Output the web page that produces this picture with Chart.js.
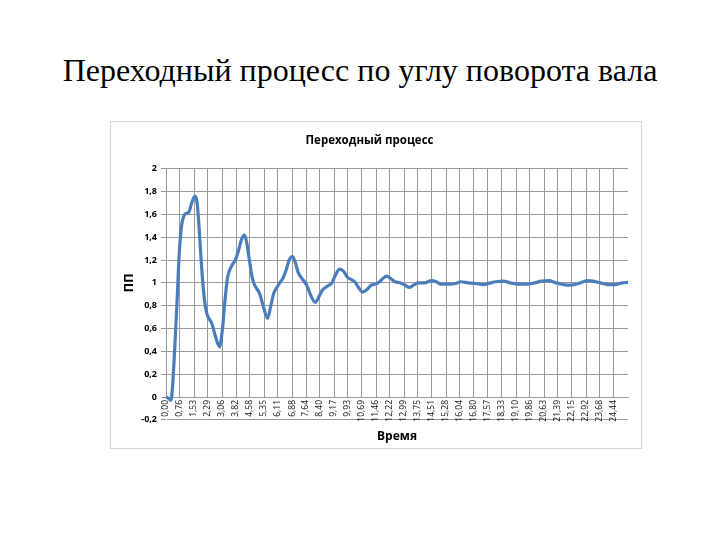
<!DOCTYPE html>
<html lang="ru">
<head>
  <meta charset="UTF-8" />
  <title>Переходный процесс по углу поворота вала</title>
  <script src="https://cdn.jsdelivr.net/npm/chart.js@4.4.0/dist/chart.umd.min.js"></script>
  <style>
    body { margin: 0; width: 720px; height: 540px; background: #fff; position: relative; overflow: hidden; }
    #slideTitle {
      position: absolute; left: 0; top: 50px; width: 720px; margin: 0;
      text-align: center; font-family: 'Liberation Serif', 'Times New Roman', serif;
      font-size: 32px; font-weight: normal; line-height: 40px; color: #000;
    }
    #frame {
      position: absolute; left: 110px; top: 121px;
      width: 530px; height: 326px; border: 1px solid #d4d4d4;
    }
    #frame canvas { display: block; }
  </style>
</head>
<body>
  <h1 id="slideTitle">Переходный процесс по углу поворота вала</h1>
  <div id="frame"><canvas id="chart" width="530" height="326"></canvas></div>
  <script>
    // time axis labels (every 0,764 s)
    const timeTicks = [0.00, 0.76, 1.53, 2.29, 3.06, 3.82, 4.58, 5.35, 6.11, 6.88,
      7.64, 8.40, 9.17, 9.93, 10.69, 11.46, 12.22, 12.99, 13.75, 14.51, 15.28,
      16.04, 16.80, 17.57, 18.33, 19.10, 19.86, 20.63, 21.39, 22.15, 22.92,
      23.68, 24.44];
    const timeMax = 25.21;
    const ppTicks = [-0.2, 0, 0.2, 0.4, 0.6, 0.8, 1, 1.2, 1.4, 1.6, 1.8, 2];

    // curve
    const tSec = [0.00, 0.12, 0.27, 0.36, 0.50, 0.62, 0.72, 0.85, 0.98, 1.10,
      1.25, 1.40, 1.58, 1.70, 1.82, 1.95, 2.10, 2.23, 2.38, 2.51,
      2.70, 2.92, 3.07, 3.22, 3.35, 3.47, 3.62, 3.78, 3.95, 4.12,
      4.27, 4.40, 4.55, 4.70, 4.81, 4.95, 5.10, 5.30, 5.54, 5.72,
      5.88, 6.05, 6.20, 6.38, 6.55, 6.72, 6.90, 7.05, 7.22, 7.41,
      7.55, 7.68, 7.90, 8.14, 8.38, 8.55, 8.80, 9.05, 9.25, 9.48,
      9.70, 9.90, 10.10, 10.30, 10.50, 10.74, 10.95, 11.20, 11.45, 11.65,
      11.85, 12.04, 12.25, 12.50, 12.80, 13.05, 13.28, 13.50, 13.80, 14.10,
      14.50, 14.75, 15.00, 15.40, 15.80, 16.10, 16.50, 16.90, 17.30, 17.70,
      18.00, 18.40, 18.80, 19.20, 19.70, 20.10, 20.50, 20.90, 21.30, 21.70,
      22.05, 22.50, 23.00, 23.30, 23.70, 24.10, 24.50, 24.90, 25.21];
    const ppValues = [0.00, -0.01, -0.03, 0.10, 0.50, 0.90, 1.25, 1.50, 1.59, 1.61,
      1.62, 1.70, 1.76, 1.70, 1.45, 1.12, 0.85, 0.73, 0.68, 0.64,
      0.53, 0.44, 0.58, 0.85, 1.04, 1.11, 1.16, 1.20, 1.28, 1.38,
      1.42, 1.36, 1.20, 1.05, 0.99, 0.95, 0.91, 0.80, 0.69, 0.80,
      0.91, 0.96, 1.00, 1.04, 1.11, 1.20, 1.23, 1.18, 1.09, 1.04,
      1.01, 0.98, 0.89, 0.83, 0.89, 0.94, 0.97, 1.00, 1.07, 1.12,
      1.10, 1.05, 1.03, 1.01, 0.96, 0.92, 0.94, 0.98, 0.99, 1.01,
      1.04, 1.06, 1.04, 1.01, 1.00, 0.98, 0.96, 0.98, 1.00, 1.00,
      1.02, 1.01, 0.99, 0.99, 0.995, 1.01, 1.00, 0.995, 0.985, 1.00,
      1.01, 1.015, 1.00, 0.99, 0.99, 1.00, 1.015, 1.02, 1.00, 0.985,
      0.98, 0.995, 1.02, 1.015, 1.00, 0.985, 0.985, 1.00, 1.005];

    const font = "'Open Sans', 'Noto Sans', sans-serif";
    const gridColor = '#9a9a9a';
    const comma = v => String(v).replace('.', ',');

    const points = tSec.map((t, i) => ({ x: t, y: ppValues[i] }));

    new Chart(document.getElementById('chart'), {
      type: 'line',
      data: {
        datasets: [{
          data: points,
          borderColor: '#4a7ebb',
          borderWidth: 3.2,
          pointRadius: 0,
          cubicInterpolationMode: 'monotone',
          clip: false
        }]
      },
      options: {
        responsive: false,
        animation: false,
        devicePixelRatio: 1,
        layout: { padding: { left: 0, right: 13, top: 0, bottom: 0 } },
        plugins: {
          legend: { display: false },
          tooltip: { enabled: false },
          title: {
            display: true,
            text: 'Переходный процесс',
            color: '#000',
            font: { family: font, size: 11.5, weight: 'bold' },
            padding: { top: 12, bottom: 21 }
          }
        },
        scales: {
          x: {
            type: 'linear',
            min: 0,
            max: timeMax,
            afterBuildTicks: s => { s.ticks = timeTicks.map(v => ({ value: v })); },
            afterFit: s => { s.height = 51; },
            ticks: {
              autoSkip: false,
              minRotation: 90,
              maxRotation: 90,
              padding: 3,
              color: '#111',
              font: { family: font, size: 8.5 },
              callback: v => v.toFixed(2).replace('.', ',')
            },
            grid: { color: gridColor, drawTicks: false },
            border: { color: gridColor },
            title: {
              display: true,
              text: 'Время',
              color: '#000',
              font: { family: font, size: 12, weight: 'bold' },
              padding: { top: 0, bottom: 4 }
            }
          },
          y: {
            min: 0,
            max: 2,
            afterBuildTicks: s => { s.ticks = ppTicks.map(v => ({ value: v })); },
            afterFit: s => { s.width = 55; },
            ticks: {
              padding: 4,
              color: '#000',
              font: { family: font, size: 9, weight: 'bold' },
              callback: v => comma(v)
            },
            grid: { color: gridColor, tickLength: 5 },
            border: { color: gridColor },
            title: {
              display: true,
              text: 'ПП',
              color: '#000',
              font: { family: font, size: 13, weight: 'bold' },
              padding: { top: 10, bottom: 0 }
            }
          }
        }
      }
    });
  </script>
</body>
</html>
